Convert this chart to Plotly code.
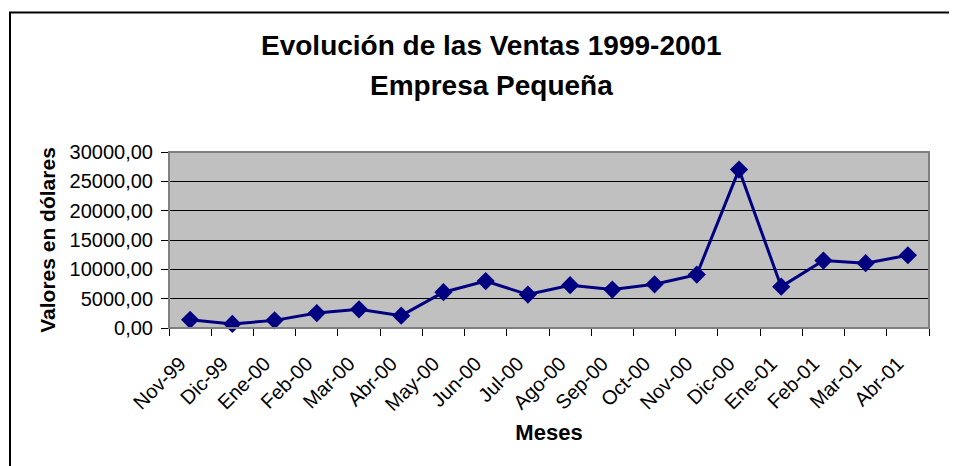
import plotly.graph_objects as go

meses = ["Nov-99", "Dic-99", "Ene-00", "Feb-00", "Mar-00", "Abr-00", "May-00", "Jun-00",
         "Jul-00", "Ago-00", "Sep-00", "Oct-00", "Nov-00", "Dic-00", "Ene-01", "Feb-01",
         "Mar-01", "Abr-01"]
ventas = [1400, 700, 1300, 2550, 3180, 2100, 6100, 8000,
          5700, 7300, 6550, 7450, 9100, 27000, 7050, 11500,
          11050, 12400]
y_tickvals = [0, 5000, 10000, 15000, 20000, 25000, 30000]
y_ticktext = ["0,00", "5000,00", "10000,00", "15000,00", "20000,00", "25000,00", "30000,00"]

FONT = "Arial, 'Liberation Sans', sans-serif"
OFF = 8  # page body margin
W, H = 957, 466
L, T = 169 - OFF, 152 - OFF
pw, ph = 760, 176
R, B = W - L - pw, H - T - ph

def px(x):
    return (x - OFF - L) / pw

def py(y):
    return (T + ph - (y - OFF)) / ph

fig = go.Figure()
fig.add_trace(go.Scatter(
    x=meses, y=ventas, mode="lines+markers",
    line=dict(color="#000080", width=3),
    marker=dict(symbol="diamond", size=14, color="#000080"),
    showlegend=False, cliponaxis=False,
))

fig.update_layout(
    width=W, height=H,
    margin=dict(l=L, r=R, t=T, b=B),
    paper_bgcolor="white", plot_bgcolor="#C0C0C0",
    font=dict(family=FONT, color="black"),
    xaxis=dict(
        type="category", tickson="boundaries", ticks="outside", ticklen=7,
        tickcolor="black", tickwidth=1, tickangle=-45,
        tickfont=dict(size=20, family=FONT), showgrid=False,
        ticklabelstandoff=15, ticklabelshift=-10,
        showline=True, linecolor="black", linewidth=1,
        title=dict(text="<b>Meses</b>", font=dict(size=22, family=FONT), standoff=10),
        range=[-0.5, len(meses) - 0.5],
    ),
    yaxis=dict(
        range=[0, 30000], tickvals=y_tickvals, ticktext=y_ticktext,
        ticks="outside", ticklen=7, tickcolor="black", tickwidth=1,
        tickfont=dict(size=20, family=FONT), ticklabelstandoff=4,
        showgrid=True, gridcolor="black", gridwidth=1,
        showline=True, linecolor="black", linewidth=1, zeroline=False,
        title=dict(text="<b>Valores en dólares</b>", font=dict(size=21, family=FONT), standoff=8),
    ),
    annotations=[
        dict(text="<b>Evolución de las Ventas 1999-2001</b>", xref="paper", yref="paper",
             x=px(491), y=py(45), xanchor="center", yanchor="middle", showarrow=False,
             font=dict(size=28, family=FONT)),
        dict(text="<b>Empresa Pequeña</b>", xref="paper", yref="paper",
             x=px(491), y=py(85), xanchor="center", yanchor="middle", showarrow=False,
             font=dict(size=28, family=FONT)),
    ],
    shapes=[
        dict(type="rect", xref="paper", yref="paper", x0=0, x1=1, y0=0, y1=1,
             line=dict(color="#808080", width=2), layer="above"),
        dict(type="rect", xref="paper", yref="paper", x0=px(10), x1=px(975),
             y0=py(485), y1=py(12.5), line=dict(color="black", width=2)),
    ],
)

fig.write_html("out.html")
